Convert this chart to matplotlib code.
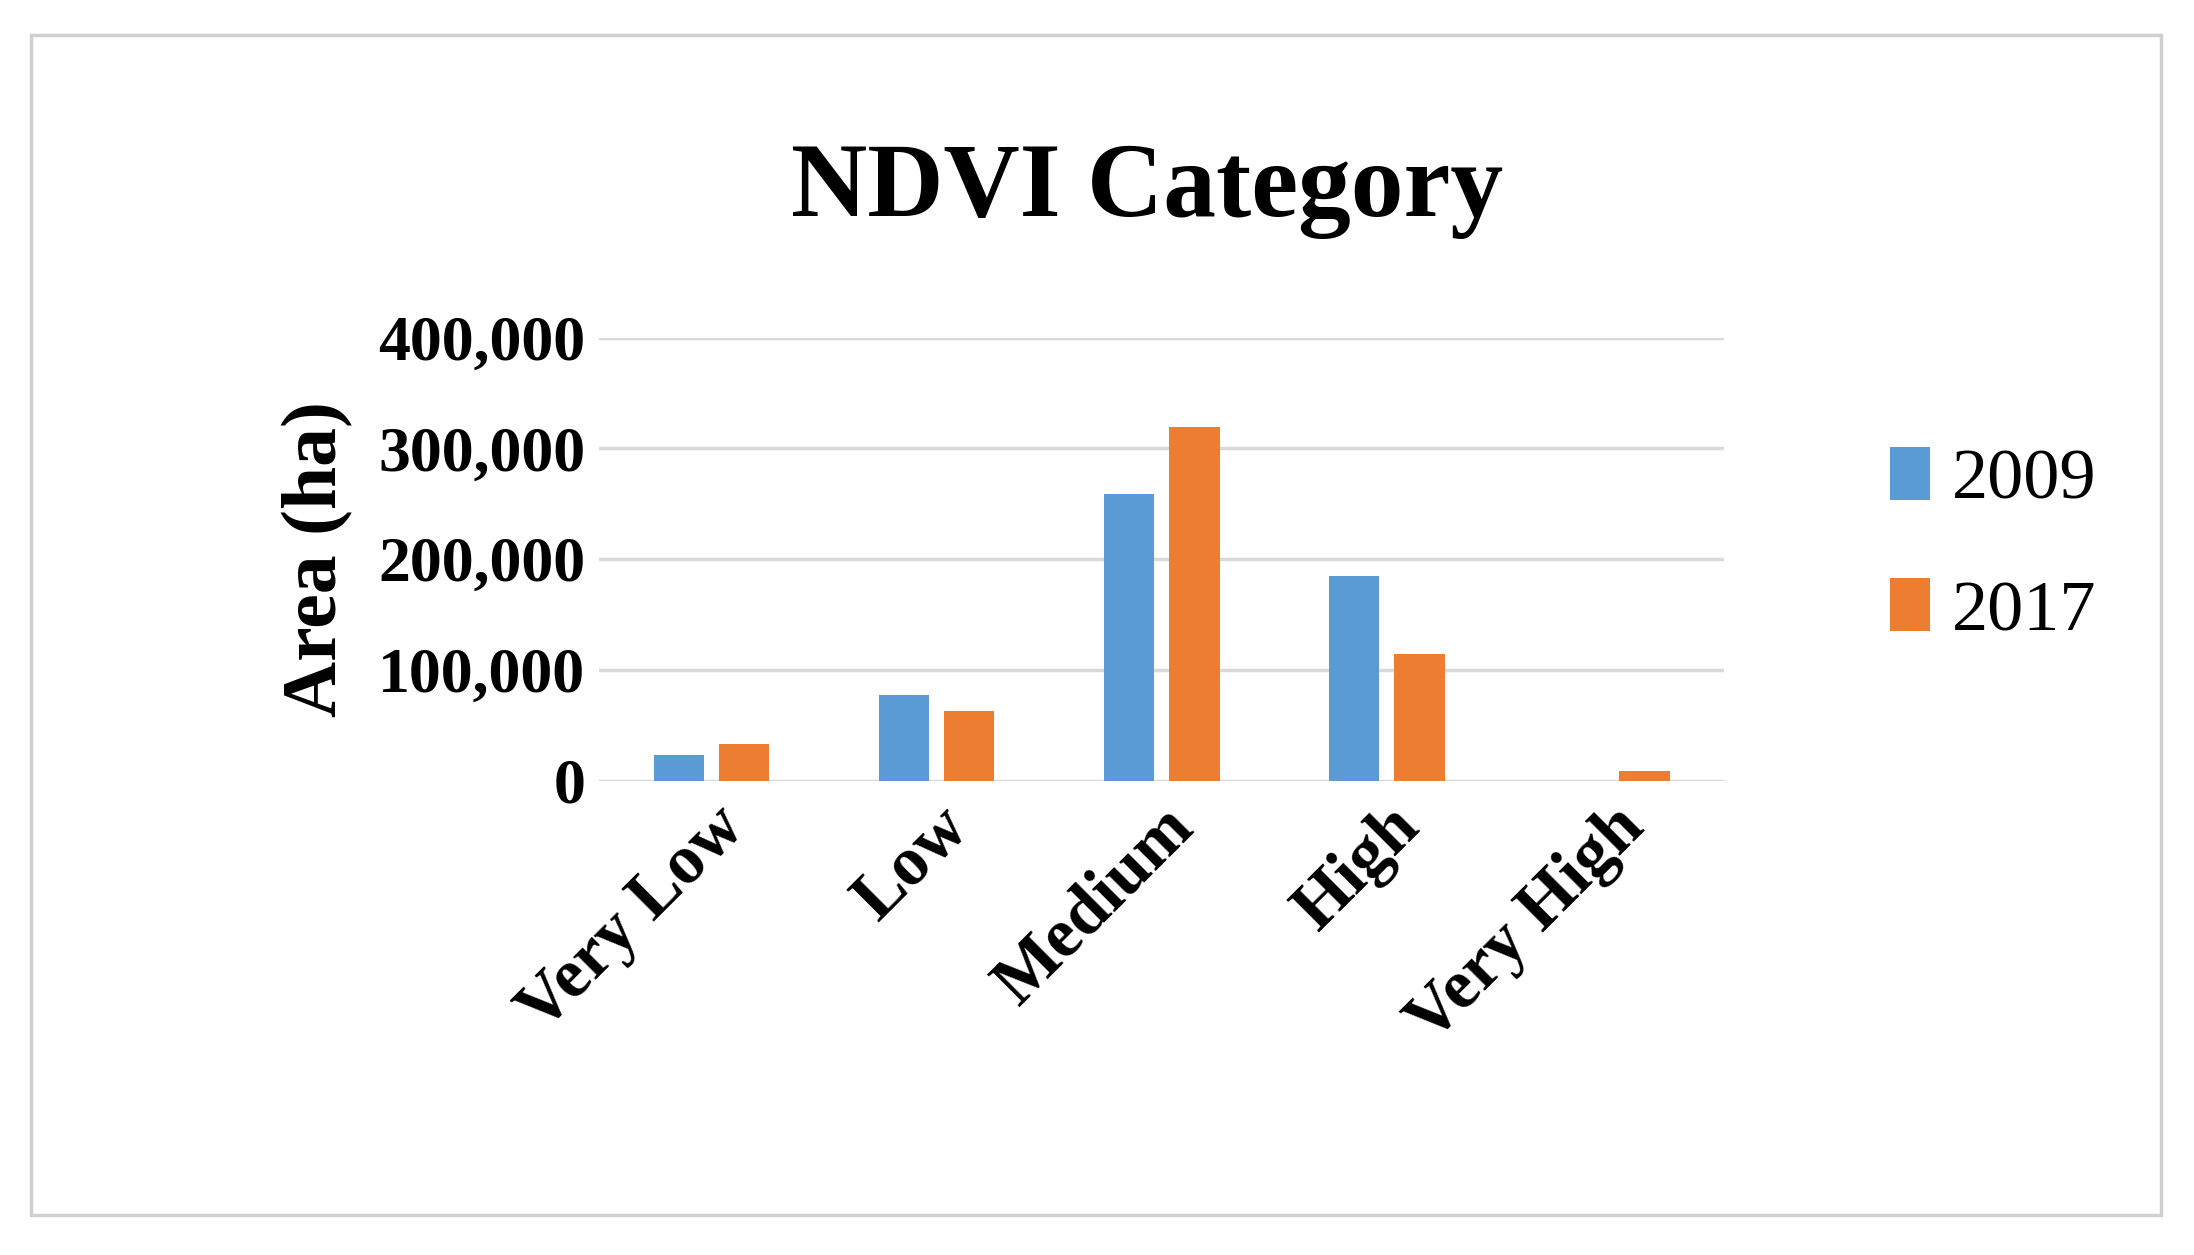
import matplotlib.pyplot as plt
import numpy as np
from matplotlib.patches import Rectangle
from matplotlib.ticker import FuncFormatter

categories = ['Very Low', 'Low', 'Medium', 'High', 'Very High']
area_2009 = [23000, 77000, 259000, 185000, 0]
area_2017 = [33000, 63000, 319000, 114000, 9000]

blue = '#5B9BD5'
orange = '#ED7D31'
plt.rcParams['font.family'] = ['Liberation Serif', 'DejaVu Serif']

fig = plt.figure(figsize=(21.94, 12.55), dpi=100)
fig.patches.append(Rectangle((0.014, 0.032), 0.971, 0.94, transform=fig.transFigure,
                             fill=False, edgecolor='#d0d0d0', linewidth=2.5))

ax = fig.add_axes([0.273, 0.378, 0.513, 0.353])
x = np.arange(len(categories))
w = 0.224
b1 = ax.bar(x - 0.145, area_2009, w, color=blue, label='2009', zorder=3)
b2 = ax.bar(x + 0.145, area_2017, w, color=orange, label='2017', zorder=3)

ax.set_xlim(-0.5, 4.5)
ax.set_ylim(0, 400000)
ax.set_yticks([0, 100000, 200000, 300000, 400000])
ax.yaxis.set_major_formatter(FuncFormatter(lambda v, p: f'{int(v):,}'))
ax.grid(axis='y', color='#d9d9d9', linewidth=2.5, zorder=0)
for s in ax.spines.values():
    s.set_visible(False)
ax.tick_params(axis='both', length=0, labelsize=46, pad=10)
for lbl in ax.get_yticklabels():
    lbl.set_fontweight('bold')
ax.set_xticks(x)
ax.set_xticklabels(categories, rotation=45, ha='right', rotation_mode='anchor',
                   fontsize=50, fontweight='bold')
ax.set_ylabel('Area (ha)', fontsize=56, fontweight='bold', labelpad=18)

fig.text(0.523, 0.848, 'NDVI Category', ha='center', va='center', fontsize=76, fontweight='bold')

fig.legend(handles=[b1, b2], loc='center left', bbox_to_anchor=(0.832, 0.565),
           frameon=False, fontsize=52, handlelength=0.55, handleheight=0.75,
           handletextpad=0.3, labelspacing=0.9)

fig.savefig('out.png', dpi=100)
